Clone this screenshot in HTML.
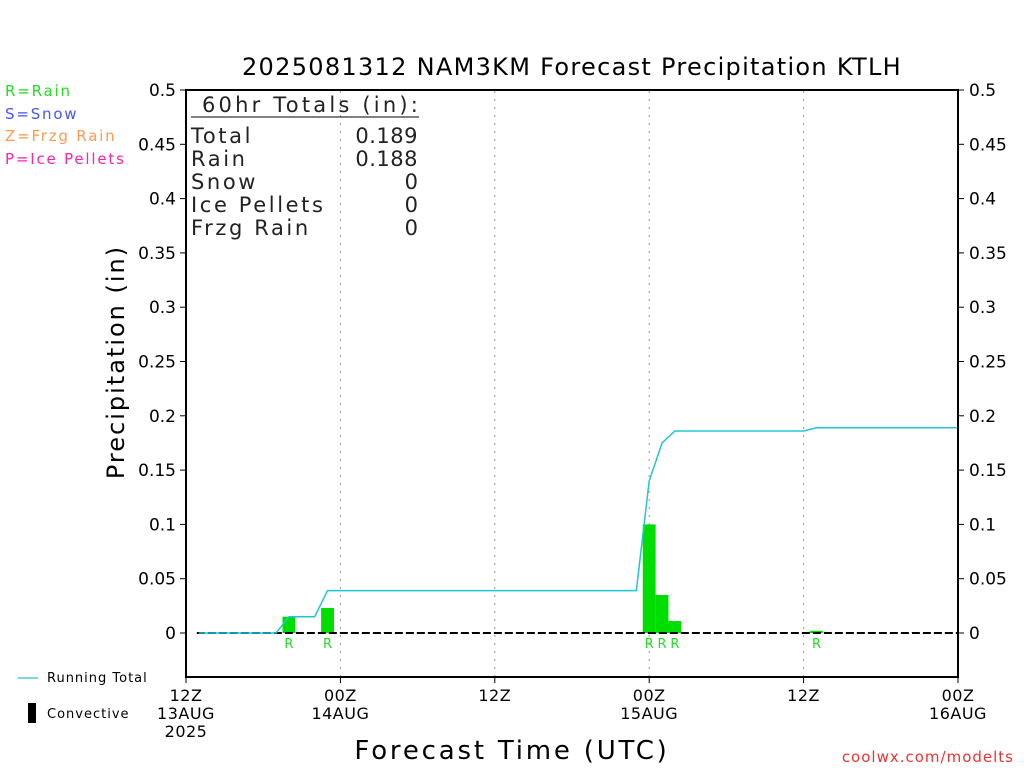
<!DOCTYPE html>
<html><head><meta charset="utf-8"><style>
body{margin:0;background:#fff;}
svg text{font-family:"DejaVu Sans","Liberation Sans",sans-serif;}
</style></head><body>
<svg id="c" width="1024" height="768" xmlns="http://www.w3.org/2000/svg">
<text x="572" y="75" font-size="24" letter-spacing="1.3" text-anchor="middle">2025081312 NAM3KM Forecast Precipitation KTLH</text>
<g font-size="15" letter-spacing="1.8">
<text x="5" y="96" fill="#22dd22">R=Rain</text>
<text x="5" y="119" fill="#4455ff">S=Snow</text>
<text x="5" y="141" fill="#ff9955">Z=Frzg Rain</text>
<text x="5" y="164" fill="#ff22aa">P=Ice Pellets</text>
</g>
<g id="grid"></g>
<g id="marks"></g>
<rect x="186" y="90" width="772" height="587" fill="none" stroke="#000" stroke-width="2"/>
<g id="axes"></g>
<g font-size="21" fill="#222" letter-spacing="2.6">
<text x="202" y="112" letter-spacing="3.2">60hr Totals (in):</text>
<line x1="191" y1="117" x2="419" y2="117" stroke="#000" stroke-width="1"/>
<text x="191" y="143">Total</text><text x="418" y="143" text-anchor="end" letter-spacing="0.5">0.189</text>
<text x="191" y="166">Rain</text><text x="418" y="166" text-anchor="end" letter-spacing="0.5">0.188</text>
<text x="191" y="189">Snow</text><text x="418" y="189" text-anchor="end" letter-spacing="0">0</text>
<text x="191" y="212">Ice Pellets</text><text x="418" y="212" text-anchor="end" letter-spacing="0">0</text>
<text x="191" y="235">Frzg Rain</text><text x="418" y="235" text-anchor="end" letter-spacing="0">0</text>
</g>
<text transform="translate(124,362) rotate(-90)" font-size="24" letter-spacing="2" text-anchor="middle">Precipitation (in)</text>
<text x="512" y="759" font-size="26" letter-spacing="2.8" text-anchor="middle">Forecast Time (UTC)</text>
<text x="1014" y="762" font-size="15" letter-spacing="1" fill="#ee3333" text-anchor="end">coolwx.com/modelts</text>
<g>
<line x1="18" y1="678" x2="38" y2="678" stroke="#22c5d5" stroke-width="1.3"/>
<text x="47" y="682" font-size="13" letter-spacing="1">Running Total</text>
<rect x="28" y="703" width="8" height="20" fill="#000"/>
<text x="47" y="718" font-size="13" letter-spacing="1">Convective</text>
</g>
</svg>
<script>
const hours=[8,11,36,37,38,49];
const barVals=[0.015,0.023,0.1,0.035,0.011,0.002];
const barTypes=["R","R","R","R","R","R"];
const totalHours=[1,7,8,10,11,35,36,37,38,48,49,60];
const totalVals=[0,0,0.015,0.015,0.039,0.039,0.14,0.175,0.186,0.186,0.189,0.189];
const yTicks=[0,0.05,0.1,0.15,0.2,0.25,0.3,0.35,0.4,0.45,0.5];
const xTickHours=[0,12,24,36,48,60];
const xTickLabels=[["12Z","13AUG","2025"],["00Z","14AUG"],["12Z"],["00Z","15AUG"],["12Z"],["00Z","16AUG"]];
const NS="http://www.w3.org/2000/svg";
const X=h=>186+h*772/60;
const Y=v=>633-v*(633-90)/0.5;
function mk(tag,attrs,parent,txt){const e=document.createElementNS(NS,tag);for(const k in attrs)e.setAttribute(k,attrs[k]);if(txt!==undefined)e.textContent=txt;document.getElementById(parent).appendChild(e);return e;}
xTickHours.forEach((h,i)=>{
 if(h>0&&h<60){const g=mk('line',{x1:X(h),y1:91,x2:X(h),y2:676,stroke:'#999','stroke-dasharray':'2,6'},'grid');
 
 }
 mk('line',{x1:X(h),y1:677,x2:X(h),y2:683,stroke:'#000'},'axes');
 xTickLabels[i].forEach((s,j)=>{const tx=mk('text',{x:X(h),y:701+j*18,'font-size':16,'letter-spacing':0.5,'text-anchor':'middle'},'axes',s);
 
 });
});
yTicks.forEach(v=>{
 mk('line',{x1:180,y1:Y(v),x2:186,y2:Y(v),stroke:'#000'},'axes');
 mk('line',{x1:958,y1:Y(v),x2:964,y2:Y(v),stroke:'#000'},'axes');
 const a=mk('text',{x:176,y:Y(v)+6,'font-size':17,'text-anchor':'end'},'axes',String(v));
 
 
 const b=mk('text',{x:969,y:Y(v)+6,'font-size':17},'axes',String(v));
 
 
});
const w=772/60;
hours.forEach((h,i)=>{
 const r=mk('rect',{x:X(h)-w/2,y:Y(barVals[i]),width:w,height:Y(0)-Y(barVals[i]),fill:'#00dd00'},'marks');
 
 
 const t=mk('text',{x:X(h),y:648,'font-size':13,fill:'#22dd22','text-anchor':'middle'},'marks',barTypes[i]);
 
 
});
const z=mk('line',{x1:X(1)-2,y1:Y(0),x2:958,y2:Y(0),stroke:'#000','stroke-width':2,'stroke-dasharray':'8,3'},'marks');


const pl=mk('polyline',{points:totalHours.map((h,i)=>X(h)+','+Y(totalVals[i])).join(' '),fill:'none',stroke:'#22c5d5','stroke-width':1.5},'marks');


</script>
</body></html>
